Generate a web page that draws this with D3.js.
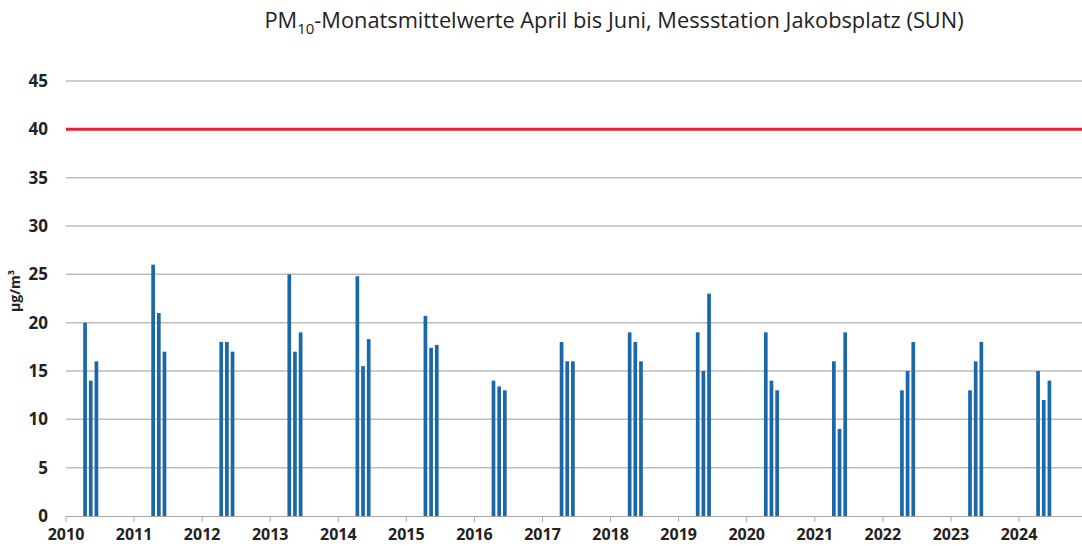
<!DOCTYPE html>
<html>
<head>
<meta charset="utf-8">
<script src="https://cdn.jsdelivr.net/npm/d3@7"></script>
<style>
  body { margin: 0; background: #fff; }
  svg { display: block; font-family: "Open Sans", "Noto Sans", sans-serif; }
</style>
</head>
<body>
<script>
'use strict';

// data
var years = [2010, 2011, 2012, 2013, 2014, 2015, 2016, 2017, 2018, 2019, 2020, 2021, 2022, 2023, 2024];
var months = [4, 5, 6];
var april = [20, 26, 18, 25, 24.8, 20.7, 14, 18, 19, 19, 19, 16, 13, 13, 15];
var may   = [14, 21, 18, 17, 15.5, 17.4, 13.4, 16, 18, 15, 14, 9, 15, 16, 12];
var june  = [16, 17, 17, 19, 18.3, 17.7, 13, 16, 16, 23, 13, 19, 18, 18, 14];
var yTicks = [0, 5, 10, 15, 20, 25, 30, 35, 40, 45];
var limit = 40;

var W = 1082, H = 546;
var plotLeft = 66, plotRight = 1082, plotTop = 81, plotBottom = 516;

var svg = d3.select('body').append('svg').attr('width', W).attr('height', H);

var x = d3.scaleLinear().domain([2010, 2024]).range([plotLeft, 1019]);
var y = d3.scaleLinear().domain([0, 45]).range([plotBottom, plotTop]);

// gridlines
svg.append('g').selectAll('line').data(yTicks.filter(function (d) { return d > 0 && d !== limit; }))
  .enter().append('line')
  .attr('x1', plotLeft).attr('x2', plotRight)
  .attr('y1', function (d) { return y(d); }).attr('y2', function (d) { return y(d); })
  .attr('stroke', '#bdbdbd').attr('stroke-width', 1.5);

// y labels
svg.append('g').selectAll('text').data(yTicks).enter().append('text')
  .attr('x', 48).attr('y', function (d) { return y(d); }).attr('dy', '0.36em')
  .attr('text-anchor', 'end').attr('font-size', 17).attr('font-weight', 'bold').attr('fill', '#222')
  .text(function (d) { return d; });

svg.append('text')
  .attr('transform', 'translate(20,' + 291 + ') rotate(-90)')
  .attr('text-anchor', 'middle').attr('font-size', 14).attr('font-weight', 'bold').attr('fill', '#222')
  .text('µg/m³');

// bars
var rows = [];
years.forEach(function (yr, i) {
  [april[i], may[i], june[i]].forEach(function (v, k) {
    rows.push({ t: yr + (months[k] - 1) / 12, v: v });
  });
});

svg.append('g').selectAll('rect').data(rows).enter().append('rect')
  .attr('x', function (d) { return x(d.t) + 0.2; })
  .attr('width', 3.7)
  .attr('y', function (d) { return y(d.v); })
  .attr('height', function (d) { return plotBottom - y(d.v); })
  .attr('fill', '#1a68a8');

// limit line
svg.append('line')
  .attr('x1', plotLeft).attr('x2', plotRight)
  .attr('y1', y(limit)).attr('y2', y(limit))
  .attr('stroke', '#e4222e').attr('stroke-width', 3);

// x axis
var xAxis = svg.append('g');
xAxis.append('line').attr('x1', plotLeft).attr('x2', plotRight).attr('y1', plotBottom + 0.5).attr('y2', plotBottom + 0.5)
  .attr('stroke', '#a6a6a6').attr('stroke-width', 1);
xAxis.selectAll('.tick').data(years).enter().append('line')
  .attr('x1', function (d) { return x(d); }).attr('x2', function (d) { return x(d); })
  .attr('y1', plotBottom).attr('y2', plotBottom + 6)
  .attr('stroke', '#a6a6a6').attr('stroke-width', 1);
xAxis.selectAll('text').data(years).enter().append('text')
  .attr('x', function (d) { return x(d); }).attr('y', 540)
  .attr('text-anchor', 'middle').attr('font-size', 16).attr('font-weight', 'bold').attr('fill', '#222')
  .text(function (d) { return d; });

// title
var title = svg.append('text').attr('x', 614).attr('y', 28).attr('text-anchor', 'middle')
  .attr('font-size', 21.8).attr('fill', '#222');
title.append('tspan').text('PM');
title.append('tspan').attr('font-size', 15).attr('dy', 6).text('10');
title.append('tspan').attr('dy', -6).text('-Monatsmittelwerte April bis Juni, Messstation Jakobsplatz (SUN)');
</script>
</body>
</html>
